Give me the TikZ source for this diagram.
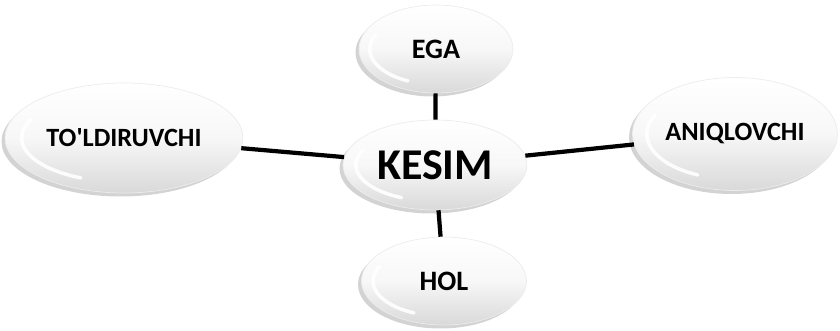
\documentclass[tikz,border=0pt]{standalone}
\usepackage{fontspec}
\setmainfont{Carlito}
\usetikzlibrary{shapes.geometric,shadows,calc}

\tikzset{
  rim/.style={path picture={
    \draw[white, line width=2pt, line cap=round, opacity=0.9]
      let \p1=($(path picture bounding box.north east)-(path picture bounding box.center)$) in
      ($(path picture bounding box.center)+({0.86*\x1*cos(155)},{0.8*\y1*sin(155)})$)
      arc[start angle=155, end angle=245, x radius=0.86*\x1, y radius=0.8*\y1];}},
  bubble/.style={ellipse, inner sep=0pt, draw=gray!15, thin,
    top color=white, bottom color=gray!30, middle color=gray!6, rim,
    drop shadow={shadow xshift=-0.07cm, shadow yshift=-0.07cm, opacity=0.35, fill=gray},
    font=\bfseries\fontsize{15}{15}\selectfont},
  hub/.style={bubble, font=\bfseries\fontsize{25}{25}\selectfont},
  link/.style={line width=2.4pt, black}
}

\begin{document}
\begin{tikzpicture}[x=0.02cm, y=-0.02cm]
    \useasboundingbox (0,0) rectangle (840,331);
    %centre
    \node[hub, minimum width=3.68cm, minimum height=1.8cm] (kesim) at (435,165) {KESIM};
    %around it
    \node[bubble, minimum width=3.08cm, minimum height=1.76cm, font=\bfseries\fontsize{16}{16}\selectfont] (ega) at (436,49) {EGA};
    \node[bubble, minimum width=4.76cm, minimum height=2.2cm] (toldir) at (124,138) {TO\textquotesingle LDIRUVCHI};
    \node[bubble, minimum width=4.1cm, minimum height=2.26cm] (aniq) at (735,134) {ANIQLOVCHI};
    \node[bubble, minimum width=3.3cm, minimum height=1.76cm, font=\bfseries\fontsize{16}{16}\selectfont] (hol) at (444,281) {HOL};
    %links
    \draw[link] (kesim) -- (ega);
    \draw[link] (kesim) -- (toldir);
    \draw[link] (kesim) -- (aniq);
    \draw[link] (kesim) -- (hol);
\end{tikzpicture}
\end{document}
